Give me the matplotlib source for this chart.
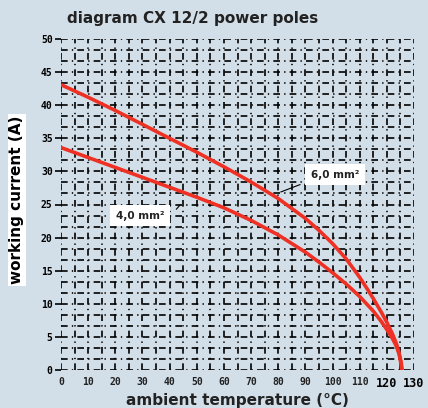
import numpy as np
import matplotlib
matplotlib.use("Agg")
import matplotlib.pyplot as plt

# ---- data ----
temp_6 = [0, 10, 20, 30, 40, 50, 60, 70, 80, 90, 95, 100, 105, 110, 113, 115, 118, 120, 122, 123.5, 124.5, 125.3, 125.6]
curr_6 = [43.1, 41.2, 39.2, 37.1, 35.0, 32.9, 30.7, 28.4, 25.9, 22.9, 21.1, 19.1, 16.8, 14.0, 12.1, 10.8, 8.7, 7.2, 5.5, 4.0, 2.6, 1.1, 0.0]

temp_4 = [0, 10, 20, 30, 40, 50, 60, 70, 80, 90, 95, 100, 105, 110, 115, 118, 120, 122, 123.5, 124.5, 125.2, 125.5]
curr_4 = [33.6, 32.1, 30.6, 29.1, 27.6, 26.1, 24.5, 22.6, 20.4, 17.8, 16.3, 14.7, 13.0, 11.1, 8.9, 7.3, 6.1, 4.8, 3.6, 2.4, 1.0, 0.0]

x_ticks = [0, 10, 20, 30, 40, 50, 60, 70, 80, 90, 100, 110, 120, 130]
y_ticks = [0, 5, 10, 15, 20, 25, 30, 35, 40, 45, 50]
labels = ["4,0 mm²", "6,0 mm²"]

title = "diagram CX 12/2 power poles"
xlabel = "ambient temperature (°C)"
ylabel = "working current (A)"

bg = "#d3dfe8"
red = "#ee3124"

fig = plt.figure(figsize=(4.28, 4.08), dpi=100)
fig.patch.set_facecolor(bg)
ax = fig.add_axes([61/428, 1-370/408, 353/428, 331/408])
ax.set_facecolor(bg)
ax.set_xlim(0, 130)
ax.set_ylim(0, 50)
for s in ax.spines.values():
    s.set_visible(False)

dash = (0, (4, 2.5, 0.8, 2.5))
for gx in np.arange(0, 131, 5):
    ax.axvline(gx, color="black", lw=1.2, linestyle=dash, zorder=1)
for gy in np.linspace(0, 50, 31):
    ax.axhline(gy, color="black", lw=1.2, linestyle=dash, zorder=1)

ax.plot(temp_6, curr_6, color=red, lw=2.6, zorder=3, solid_capstyle="butt", solid_joinstyle="round")
ax.plot(temp_4, curr_4, color=red, lw=2.6, zorder=3, solid_capstyle="butt", solid_joinstyle="round")

mono = dict(family="DejaVu Sans Mono", weight="bold", size=7)
ax.set_xticks(x_ticks)
ax.set_yticks(y_ticks)
ax.set_xticklabels([str(v) for v in x_ticks], fontdict=mono)
ax.set_yticklabels([str(v) for v in y_ticks], fontdict=mono)
ax.tick_params(axis="x", length=0, pad=5, colors="#222222")
ax.tick_params(axis="y", length=4, width=1.2, pad=2, colors="black")
for t in ax.get_xticklabels()[-2:]:
    t.set_fontsize(8.5)
    t.set_color("black")

# labels with boxes
box = dict(boxstyle="square,pad=0.55", fc="white", ec="none")
ax.text(29.2, 23.3, labels[0], ha="center", va="center", fontsize=7.5, weight="bold",
        family="DejaVu Sans", bbox=box, zorder=4, color="#222222")
ax.text(101, 29.5, labels[1], ha="center", va="center", fontsize=7.5, weight="bold",
        family="DejaVu Sans", bbox=box, zorder=4, color="#222222")
ax.plot([88.0, 81.0], [28.0, 26.9], color="black", lw=0.8, zorder=4)
ax.plot([42.5, 43.8], [24.3, 24.9], color="black", lw=0.8, zorder=4)

fig.text(193/428, 1-18/408, title, ha="center", va="center", fontsize=11,
         weight="bold", color="#222222")
fig.text(237/428, 1-401/408, xlabel, ha="center", va="center", fontsize=11,
         weight="bold", color="#222222")
fig.text(17/428, 1-200/408, ylabel, ha="center", va="center", fontsize=11,
         weight="bold", rotation=90, color="black",
         bbox=dict(boxstyle="square,pad=0.1", fc="white", ec="none"))

fig.savefig("out.png", dpi=100, facecolor=bg)
